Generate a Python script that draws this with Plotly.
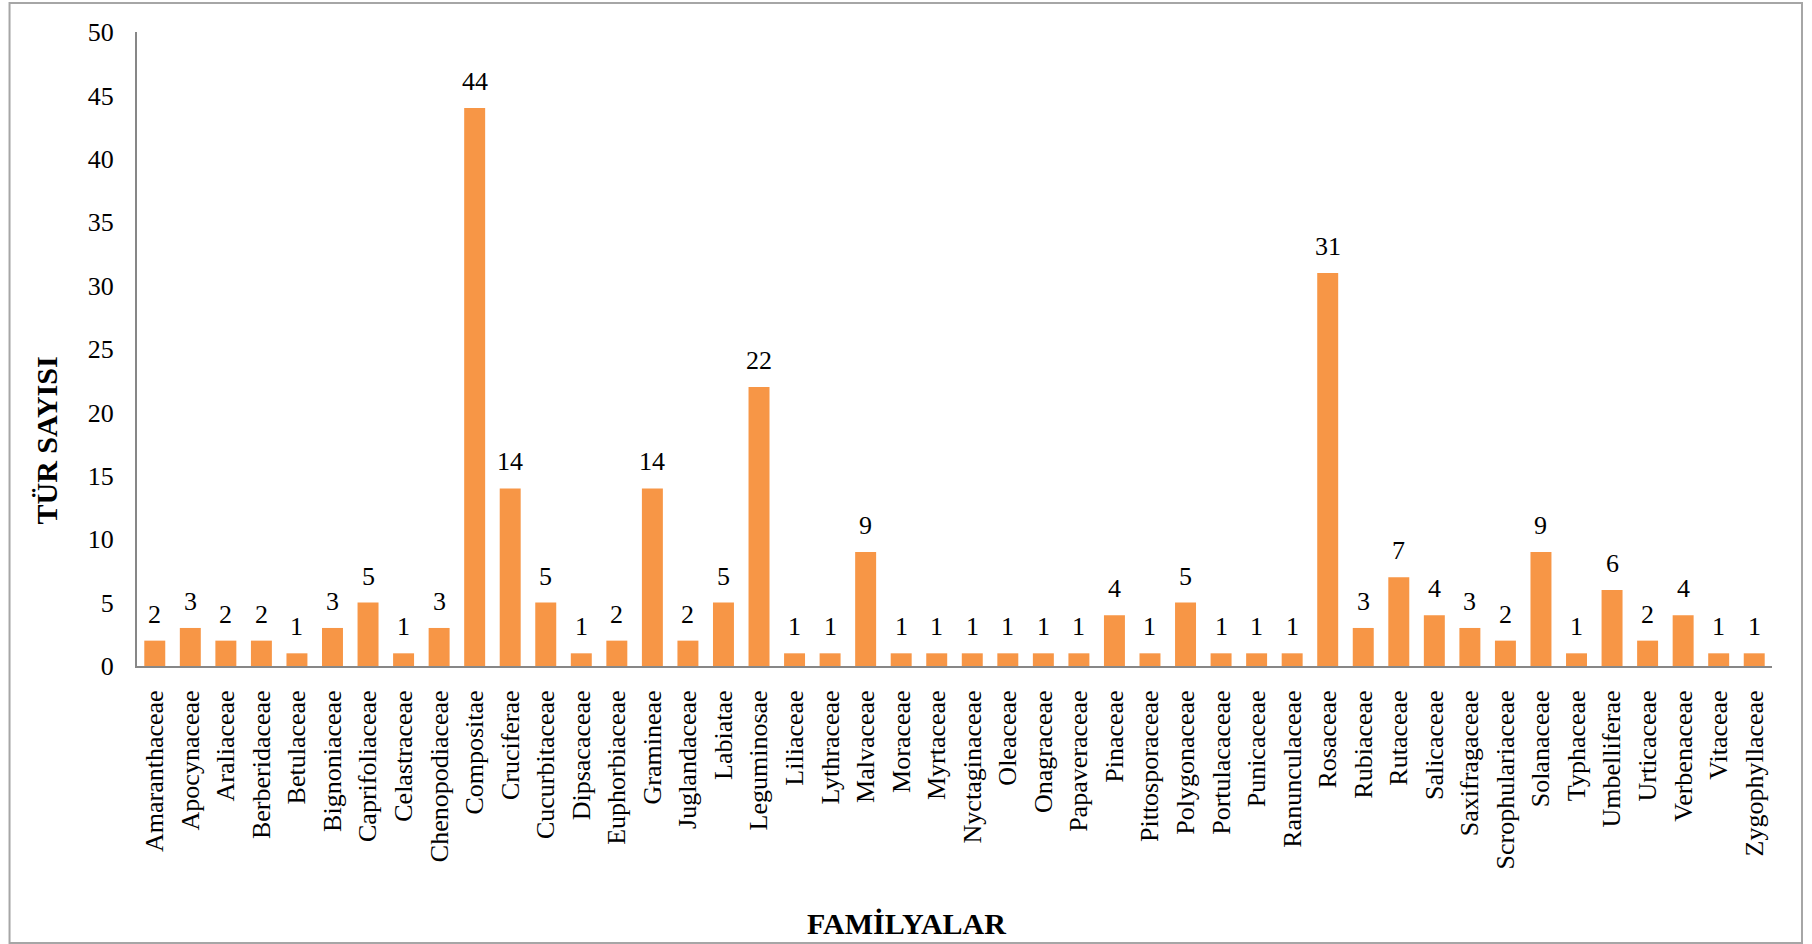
import plotly.graph_objects as go

# Species count per plant family
families = [
    "Amaranthaceae", "Apocynaceae", "Araliaceae", "Berberidaceae", "Betulaceae",
    "Bignoniaceae", "Caprifoliaceae", "Celastraceae", "Chenopodiaceae", "Compositae",
    "Cruciferae", "Cucurbitaceae", "Dipsacaceae", "Euphorbiaceae", "Gramineae",
    "Juglandaceae", "Labiatae", "Leguminosae", "Liliaceae", "Lythraceae",
    "Malvaceae", "Moraceae", "Myrtaceae", "Nyctaginaceae", "Oleaceae",
    "Onagraceae", "Papaveraceae", "Pinaceae", "Pittosporaceae", "Polygonaceae",
    "Portulacaceae", "Punicaceae", "Ranunculaceae", "Rosaceae", "Rubiaceae",
    "Rutaceae", "Salicaceae", "Saxifragaceae", "Scrophulariaceae", "Solanaceae",
    "Typhaceae", "Umbelliferae", "Urticaceae", "Verbenaceae", "Vitaceae",
    "Zygophyllaceae",
]
species_counts = [
    2, 3, 2, 2, 1,
    3, 5, 1, 3, 44,
    14, 5, 1, 2, 14,
    2, 5, 22, 1, 1,
    9, 1, 1, 1, 1,
    1, 1, 4, 1, 5,
    1, 1, 1, 31, 3,
    7, 4, 3, 2, 9,
    1, 6, 2, 4, 1,
    1,
]
y_ticks = list(range(0, 51, 5))

W, H = 1812, 944
L, R, T, B = 136.5, 40, 32, 278
pw, ph = W - L - R, H - T - B


def px_to_paper(x_px, y_px):
    return (x_px - L) / pw, (H - B - y_px) / ph


FONT = "Liberation Serif"
BAR_COLOR = "#F79646"
AXIS_COLOR = "#878787"

fig = go.Figure(
    go.Bar(
        x=families,
        y=species_counts,
        marker=dict(color=BAR_COLOR, line=dict(width=0)),
        hoverinfo="x+y",
    )
)

# value labels above each bar
annotations = [
    dict(
        x=f, y=v, xref="x", yref="y", text=str(v), showarrow=False,
        yanchor="bottom", yshift=10,
        font=dict(family=FONT, size=26, color="#000000"),
    )
    for f, v in zip(families, species_counts)
]

tx, ty = px_to_paper(45, 441)
annotations.append(dict(
    x=tx, y=ty, xref="paper", yref="paper", text="<b>TÜR SAYISI</b>",
    textangle=-90, showarrow=False, xanchor="center", yanchor="middle",
    font=dict(family=FONT, size=30, color="#000000"),
))
fx, fy = px_to_paper(906, 923)
annotations.append(dict(
    x=fx, y=fy, xref="paper", yref="paper", text="<b>FAMİLYALAR</b>",
    showarrow=False, xanchor="center", yanchor="middle",
    font=dict(family=FONT, size=30, color="#000000"),
))

bx0, by1 = px_to_paper(9, 3)
bx1, by0 = px_to_paper(1802, 943)

fig.update_layout(
    width=W, height=H,
    margin=dict(l=L, r=R, t=T, b=B, pad=0),
    paper_bgcolor="white", plot_bgcolor="white",
    bargap=0.41,
    showlegend=False,
    font=dict(family=FONT, size=26, color="#000000"),
    annotations=annotations,
    shapes=[dict(
        type="rect", xref="paper", yref="paper",
        x0=bx0, x1=bx1, y0=by0, y1=by1,
        line=dict(color="#A6A6A6", width=2), fillcolor="rgba(0,0,0,0)",
        layer="below",
    )],
    xaxis=dict(
        type="category",
        tickangle=-90,
        showline=True, linecolor=AXIS_COLOR, linewidth=2,
        showgrid=False, ticks="", zeroline=False,
        ticklabelstandoff=12,
        tickfont=dict(family=FONT, size=26, color="#000000"),
    ),
    yaxis=dict(
        range=[0, 50],
        tickvals=y_ticks,
        showline=True, linecolor=AXIS_COLOR, linewidth=2,
        showgrid=False, ticks="", zeroline=False,
        ticklabelstandoff=16,
        tickfont=dict(family=FONT, size=26, color="#000000"),
    ),
)

fig.write_html("out.html")
